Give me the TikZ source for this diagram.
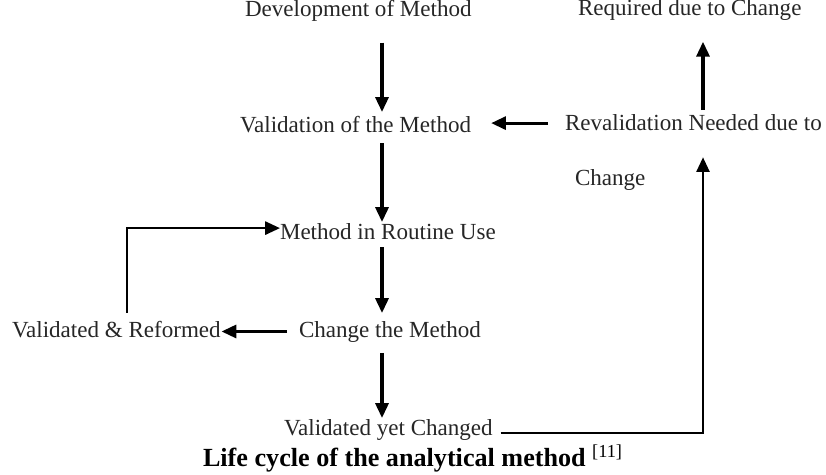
\documentclass[tikz,border=0pt]{standalone}
\usepackage{fontspec}
\setmainfont{Liberation Serif}
\usetikzlibrary{arrows.meta,positioning,calc}
\definecolor{lcInk}{RGB}{38,38,38}

\begin{document}
\begin{tikzpicture}[
      lbl/.style={anchor=base west,inner sep=0pt,outer sep=0pt,text=lcInk,font={\fontsize{16.4pt}{19.7pt}\selectfont}},
      captxt/.style={anchor=base west,inner sep=0pt,outer sep=0pt,font={\fontsize{18.6pt}{22pt}\selectfont\bfseries}},
      arr/.style={-{Triangle[length=10.5pt,width=9.2pt]},line width=2.2pt,draw=black},
      backarr/.style={arr,line width=1.9pt}
    ]
    \useasboundingbox (0,0) rectangle (20.65,-11.875);
    % stages
    \node[lbl] (dev)     at (6.125,-0.425)  {Development of Method};
    \node[lbl] (req)     at (14.45,-0.40)   {Required due to Change};
    \node[lbl] (valid)   at (6.0,-3.325)    {Validation of the Method};
    \node[lbl] (reval)   at (14.125,-3.275) {Revalidation Needed due to};
    \node[lbl] (revalb)  at (14.375,-4.65)  {Change};
    \node[lbl] (routine) at (7.0,-6.0)      {Method in Routine Use};
    \node[lbl] (reform)  at (0.3,-8.425)    {Validated \& Reformed};
    \node[lbl] (change)  at (7.475,-8.425)  {Change the Method};
    \node[lbl] (vyc)     at (7.1,-10.88)    {Validated yet Changed};
    \node[captxt] (caption) at (5.075,-11.66) {Life cycle of the analytical method {\normalfont\textsuperscript{[11]}}};
    % arrow columns
    \coordinate (ax) at (9.55,0);
    \coordinate (rx) at (17.575,0);
    \coordinate (lx) at (3.175,0);
    \draw[arr,shorten <=0.52cm,shorten >=0.12cm] (dev.south -| ax) -- (valid.north -| ax);
    \draw[arr,shorten <=0.25cm,shorten >=0.05cm] (valid.south -| ax) -- (routine.north -| ax);
    \draw[arr,shorten <=0.17cm,shorten >=0.2cm] (routine.south -| ax) -- (change.north -| ax);
    \draw[arr,shorten <=0.27cm,shorten >=0.03cm] (change.south -| ax) -- (vyc.north -| ax);
    \draw[arr,shorten <=0.42cm,shorten >=0.5cm] (reval.west) -- (reval.west -| valid.east);
    \draw[arr,shorten <=0.12cm,shorten >=0.52cm] (reval.north -| rx) -- (req.south -| rx);
    \draw[arr,shorten <=0.3cm,shorten >=0.02cm] (change.west) -- (change.west -| reform.east);
    \draw[backarr,shorten <=0.2cm] (reform.north -| lx) |- ([yshift=0.1cm]routine.west);
    \draw[backarr,shorten <=0.2cm,shorten >=0.65cm] ([yshift=-0.08cm]vyc.east) -| (reval.south -| rx);
  \end{tikzpicture}
\end{document}
